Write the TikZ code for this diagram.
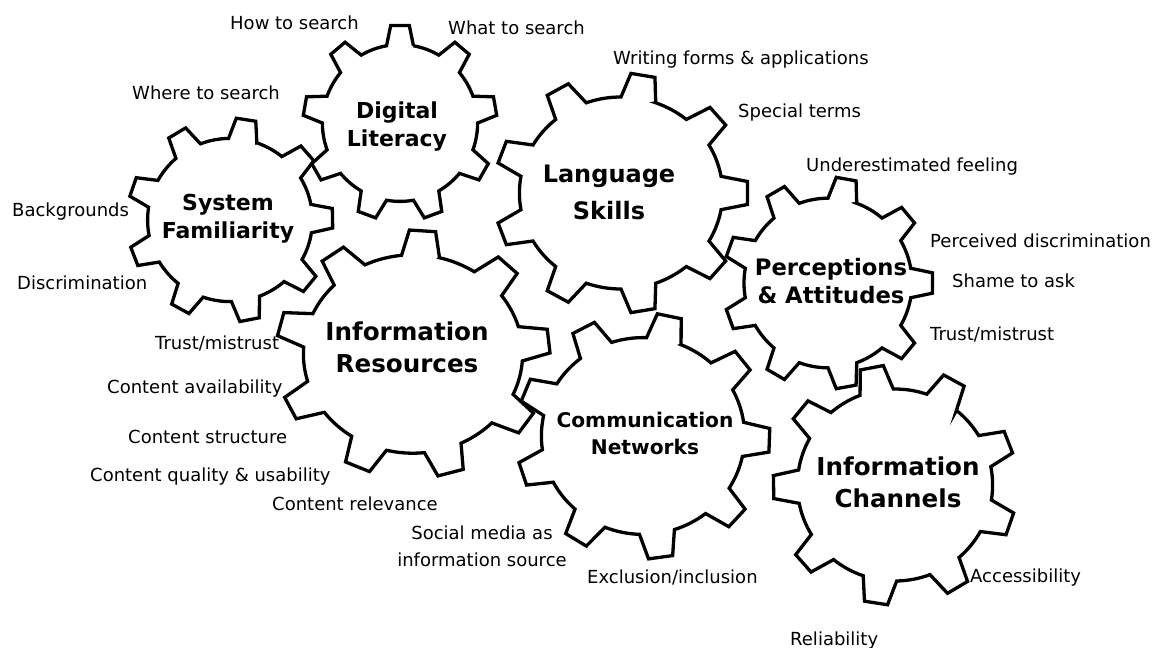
\documentclass[tikz,border=0pt]{standalone}
\usepackage{fontspec}
\setmainfont{DejaVu Sans}
\begin{document}
\begin{tikzpicture}[x=1pt,y=-1pt,
  gearline/.style={draw=black,fill=white,line width=3.3pt,line join=miter},
  lbl/.style={font=\fontsize{18}{20}\selectfont,inner sep=0pt,anchor=base west},
  ttl/.style={inner sep=0pt,anchor=base,align=center}]
\useasboundingbox (0,0) rectangle (1157,648);
\def\gtw{5.5}\def\gbw{10}\def\grr{0.8}
\newcommand\gearshape[5]{%
  \begin{scope}[shift={(#1,#2)},xscale=#3,yscale=-#4]
  \filldraw[gearline] ({#5-\gbw}:\grr)
    \foreach \k in {0,...,8}{
      -- ({#5+40*\k-\gtw}:1) -- ({#5+40*\k+\gtw}:1) -- ({#5+40*\k+\gbw}:\grr)
      arc[start angle={#5+40*\k+\gbw}, end angle={#5+40*\k+40-\gbw}, radius=\grr]
    } -- cycle;
  \end{scope}}
% gears
\gearshape{230}{220}{103}{102}{81}
\gearshape{400}{123}{97}{98}{90}
\gearshape{621}{193}{127}{120}{80}
\gearshape{828}{283}{105}{106}{80}
\gearshape{413}{354}{137}{124}{86}
\gearshape{643}{436}{127}{123}{78}
\gearshape{895}{485}{122}{120}{61}
% titles (anchor = baseline of the last line)
\node[ttl,font=\fontsize{22}{28}\selectfont\bfseries] (dl) at (397,146) {Digital\\Literacy};
\node[ttl,font=\fontsize{22}{28}\selectfont\bfseries] (sf) at (228,238) {System\\Familiarity};
\node[ttl,font=\fontsize{24}{37}\selectfont\bfseries] (ls) at (609,219) {Language\\Skills};
\node[ttl,font=\fontsize{22.7}{28}\selectfont\bfseries] (pa) at (831,303) {Perceptions\\\& Attitudes};
\node[ttl,font=\fontsize{24.6}{32}\selectfont\bfseries] (ir) at (407,372) {Information\\Resources};
\node[ttl,font=\fontsize{20.2}{27}\selectfont\bfseries] (cn) at (645,454) {Communication\\Networks};
\node[ttl,font=\fontsize{24.6}{32}\selectfont\bfseries] (ic) at (898,507) {Information\\Channels};
% labels
\node[lbl] (lhow) at (230,29) {How to search};
\node[lbl] (lwhat) at (448,34) {What to search};
\node[lbl] (lwhere) at (132,99) {Where to search};
\node[lbl] (lwrite) at (613,64) {Writing forms \& applications};
\node[lbl] (lspec) at (738,117) {Special terms};
\node[lbl] (lunder) at (806,171) {Underestimated feeling};
\node[lbl] (lback) at (12,216) {Backgrounds};
\node[lbl] (ldisc) at (17,289) {Discrimination};
\node[lbl] (lperc) at (930,247) {Perceived discrimination};
\node[lbl] (lshame) at (952,287) {Shame to ask};
\node[lbl] (ltrustb) at (930,340) {Trust/mistrust};
\node[lbl] (ltrusta) at (155,349) {Trust/mistrust};
\node[lbl] (lavail) at (107,393) {Content availability};
\node[lbl] (lstruct) at (128,443) {Content structure};
\node[lbl] (lqual) at (90,481) {Content quality \& usability};
\node[lbl] (lrel) at (272,510) {Content relevance};
\node[lbl,anchor=base,align=center,font=\fontsize{18}{27}\selectfont] (lsoc) at (482,566) {Social media as\\information source};
\node[lbl] (lexcl) at (587,583) {Exclusion/inclusion};
\node[lbl] (lacc) at (970,582) {Accessibility};
\node[lbl] (lreli) at (790,645) {Reliability};
\end{tikzpicture}
\end{document}
